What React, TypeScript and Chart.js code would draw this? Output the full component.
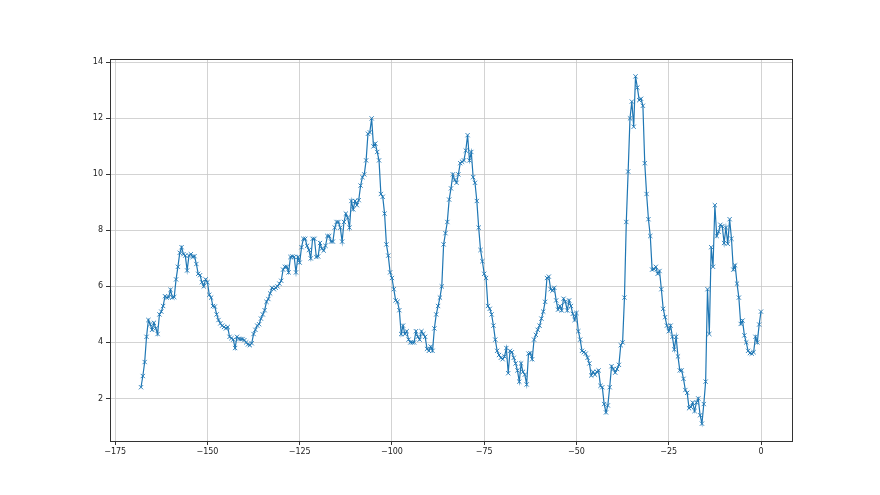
import React, { useEffect, useRef } from "react";
import { Chart, registerables } from "chart.js";

Chart.register(...registerables);

// x grid: half-unit steps from X_START to X_END
const X_START = -168;
const X_STEP = 0.5;

// series values (one row = 5 x-units)
const seriesValues: number[] = [
  2.4, 2.8, 3.3, 4.2, 4.8, 4.65, 4.45, 4.7, 4.5, 4.3,
  5.0, 5.1, 5.3, 5.65, 5.6, 5.62, 5.88, 5.6, 5.62, 6.25,
  6.7, 7.2, 7.4, 7.15, 7.1, 6.57, 7.1, 7.15, 7.05, 7.08,
  6.8, 6.45, 6.4, 6.15, 6.0, 6.25, 6.15, 5.7, 5.6, 5.3,
  5.28, 5.0, 4.8, 4.68, 4.6, 4.55, 4.5, 4.55, 4.2, 4.15,
  4.1, 3.8, 4.2, 4.13, 4.12, 4.12, 4.08, 4.0, 3.93, 3.9,
  3.97, 4.3, 4.45, 4.6, 4.65, 4.85, 5.0, 5.15, 5.45, 5.55,
  5.75, 5.95, 5.9, 5.95, 6.0, 6.1, 6.2, 6.6, 6.7, 6.7,
  6.5, 7.05, 7.07, 7.05, 6.5, 7.05, 6.85, 7.4, 7.7, 7.7,
  7.45, 7.3, 7.0, 7.7, 7.7, 7.05, 7.07, 7.55, 7.35, 7.28,
  7.45, 7.8, 7.8, 7.6, 7.6, 8.1, 8.3, 8.3, 8.1, 7.6,
  8.3, 8.6, 8.45, 8.1, 9.05, 8.75, 9.05, 8.9, 9.08, 9.6,
  9.9, 10.0, 10.5, 11.45, 11.5, 12.0, 11.0, 11.1, 10.8, 10.5,
  9.3, 9.2, 8.6, 7.5, 7.1, 6.5, 6.3, 5.9, 5.5, 5.45,
  5.15, 4.3, 4.6, 4.3, 4.4, 4.1, 4.0, 4.0, 4.0, 4.4,
  4.2, 4.1, 4.4, 4.3, 4.2, 3.77, 3.7, 3.85, 3.7, 4.5,
  5.0, 5.3, 5.6, 6.0, 7.5, 7.9, 8.3, 9.1, 9.5, 10.0,
  9.8, 9.7, 10.0, 10.4, 10.45, 10.5, 10.85, 11.4, 10.5, 10.8,
  9.9, 9.7, 9.05, 8.1, 7.3, 6.9, 6.45, 6.3, 5.3, 5.2,
  5.0, 4.6, 4.1, 3.7, 3.55, 3.45, 3.4, 3.5, 3.8, 2.9,
  3.7, 3.65, 3.45, 3.25, 3.0, 2.6, 3.25, 2.95, 2.85, 2.5,
  3.6, 3.62, 3.4, 4.1, 4.27, 4.45, 4.6, 4.85, 5.1, 5.45,
  6.3, 6.35, 5.9, 5.85, 5.95, 5.5, 5.17, 5.3, 5.14, 5.56,
  5.45, 5.14, 5.5, 5.3, 5.02, 4.8, 5.05, 4.4, 4.1, 3.7,
  3.65, 3.6, 3.45, 3.25, 2.82, 2.95, 2.85, 2.95, 3.0, 2.45,
  2.4, 1.8, 1.5, 1.75, 2.4, 3.15, 3.05, 2.92, 3.05, 3.2,
  3.9, 4.0, 5.6, 8.3, 10.1, 12.0, 12.6, 11.7, 13.5, 13.1,
  12.65, 12.7, 12.45, 10.4, 9.3, 8.4, 7.8, 6.6, 6.62, 6.7,
  6.45, 6.55, 5.9, 5.2, 4.9, 4.6, 4.4, 4.6, 4.2, 3.75,
  4.2, 3.5, 3.0, 3.0, 2.7, 2.3, 2.2, 1.65, 1.7, 1.85,
  1.55, 1.85, 2.0, 1.4, 1.1, 1.8, 2.6, 5.9, 4.3, 7.4,
  6.7, 8.9, 7.8, 7.95, 8.2, 8.15, 7.55, 8.1, 7.52, 8.4,
  7.7, 6.6, 6.75, 6.1, 5.6, 4.66, 4.78, 4.25, 4.0, 3.7,
  3.62, 3.6, 3.65, 4.2, 4.0, 4.64, 5.1,
];

const xTickValues = [-175, -150, -125, -100, -75, -50, -25, 0];
const yTickValues = [2, 4, 6, 8, 10, 12, 14];

const fmt = (v: number) => (v < 0 ? "\u2212" + Math.abs(v) : String(v));

export default function App() {
  const ref = useRef<HTMLCanvasElement | null>(null);

  useEffect(() => {
    const canvas = ref.current;
    if (!canvas) return;
    const points = seriesValues.map((y, i) => ({ x: X_START + X_STEP * i, y }));
    const xs = points.map((p) => p.x);
    const ys = seriesValues;
    const xMin0 = Math.min(...xs), xMax0 = Math.max(...xs);
    const yMin0 = Math.min(...ys), yMax0 = Math.max(...ys);
    const xm = (xMax0 - xMin0) * 0.05;
    const ym = (yMax0 - yMin0) * 0.05;

    const frame = {
      id: "frame",
      afterDraw(chart: any) {
        const { ctx, chartArea: a } = chart;
        ctx.save();
        ctx.strokeStyle = "#333333";
        ctx.lineWidth = 1;
        ctx.strokeRect(Math.round(a.left) + 0.5, Math.round(a.top) + 0.5, Math.round(a.right - a.left), Math.round(a.bottom - a.top));
        ctx.restore();
      },
    };

    const font = { family: "'DejaVu Sans', sans-serif", size: 8 };

    const chart = new Chart(canvas, {
      type: "line",
      data: {
        datasets: [
          {
            data: points,
            borderColor: "#1f77b4",
            backgroundColor: "#1f77b4",
            borderWidth: 1.2,
            pointStyle: "crossRot",
            pointRadius: 3,
            pointBorderWidth: 0.9,
            pointBorderColor: "#1f77b4",
            pointHoverRadius: 3,
            tension: 0,
            fill: false,
          },
        ],
      },
      options: {
        animation: false,
        responsive: false,
        devicePixelRatio: 1,
        events: [],
        layout: { padding: { left: 0, top: 59, right: 88, bottom: 0 } },
        plugins: { legend: { display: false }, tooltip: { enabled: false } },
        scales: {
          x: {
            type: "linear",
            min: xMin0 - xm,
            max: xMax0 + xm,
            afterBuildTicks: (s: any) => {
              s.ticks = xTickValues.map((v) => ({ value: v }));
            },
            afterFit: (s: any) => {
              s.height = 54;
            },
            ticks: { callback: (v: any) => fmt(Number(v)), font, color: "#222", padding: 2, maxRotation: 0, autoSkip: false },
            grid: { color: "#c8c8c8", lineWidth: 0.8, tickLength: 4, tickColor: "#333", tickWidth: 1 },
            border: { display: false },
          },
          y: {
            type: "linear",
            min: yMin0 - ym,
            max: yMax0 + ym,
            afterBuildTicks: (s: any) => {
              s.ticks = yTickValues.map((v) => ({ value: v }));
            },
            afterFit: (s: any) => {
              s.width = 110;
            },
            ticks: { callback: (v: any) => fmt(Number(v)), font, color: "#222", padding: 3, autoSkip: false },
            grid: { color: "#c8c8c8", lineWidth: 0.8, tickLength: 4, tickColor: "#333", tickWidth: 1 },
            border: { display: false },
          },
        },
      },
      plugins: [frame],
    } as any);
    return () => chart.destroy();
  }, []);

  return (
    <div style={{ position: "fixed", left: 0, top: 0, width: 880, height: 495, background: "#fff" }}>
      <canvas ref={ref} width={880} height={495} style={{ width: 880, height: 495, display: "block" }} />
    </div>
  );
}
